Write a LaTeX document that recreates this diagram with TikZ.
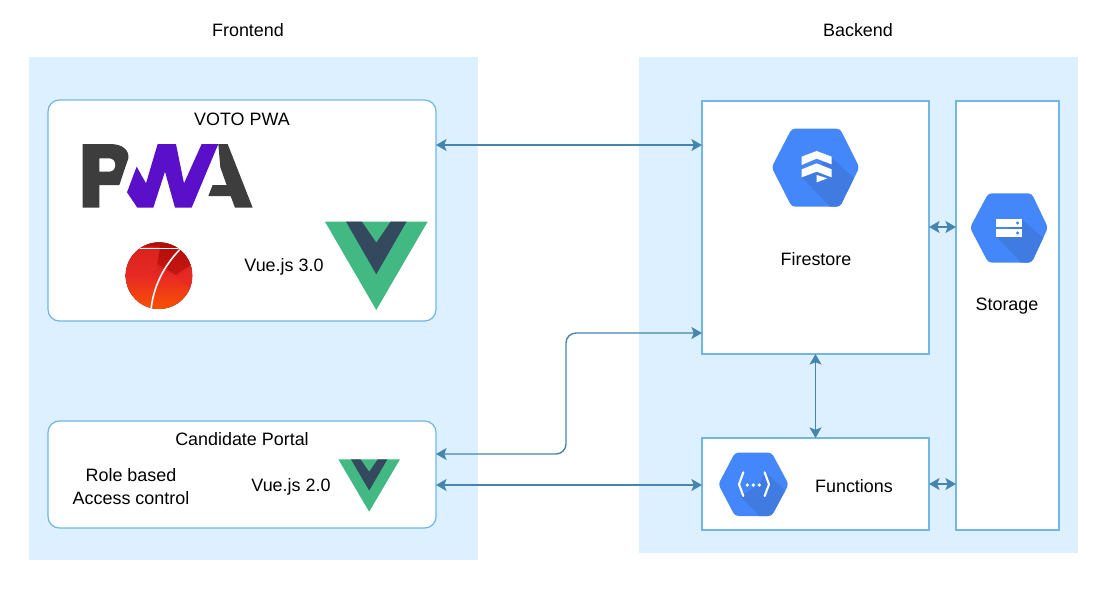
\documentclass[tikz,border=0pt]{standalone}
\usepackage{fontspec}
\setmainfont{Liberation Sans}
\usetikzlibrary{arrows.meta,fit}
\definecolor{panelc}{HTML}{DDF0FF}
\definecolor{strokec}{HTML}{70B6E6}
\definecolor{linec}{HTML}{4585AE}
\definecolor{hexc}{HTML}{4487FA}
\definecolor{hexshade}{HTML}{407BE2}
\definecolor{pwadark}{HTML}{3D3D3D}
\definecolor{pwapurple}{HTML}{5A0FC8}
\definecolor{vuegreen}{HTML}{42B883}
\definecolor{vuedark}{HTML}{35495E}
\definecolor{fseven}{HTML}{E82A24}
\definecolor{fsevendark}{HTML}{B20C08}
\definecolor{fsevenlow}{HTML}{FA5200}
\tikzset{
  panel/.style={fill=panelc,draw=none,inner sep=0pt,outer sep=0pt},
  roundbox/.style={fill=white,draw=strokec,line width=.7pt,rounded corners=6.5pt,inner sep=0pt,outer sep=0pt},
  squarebox/.style={fill=white,draw=strokec,line width=.9pt,inner sep=0pt,outer sep=0pt},
  lbl/.style={font=\fontsize{10.2pt}{13pt}\selectfont,text=black,inner sep=0pt,align=center},
  biarrow/.style={draw=linec,line width=.8pt,>={Stealth[length=6pt,width=6.8pt,inset=1.3pt]},<->},
  zoomed/.style={scale=0.3333},
  hexbody/.style={rounded corners=2pt},
  iconline/.style={draw=white,line width=1.2pt,line cap=round,line join=round}
}
\newcommand{\vuelogo}[6]{% x0 x1 y0 y1 : zoom-coordinates of the logo; shift x, shift y
  \begin{scope}[shift={(#5,#6)},zoomed]
    \pgfmathsetmacro{\vw}{#2-#1}\pgfmathsetmacro{\vh}{#4-#3}
    \begin{scope}[shift={(#1,#3)},xscale=\vw,yscale=\vh]
      \fill[vuegreen] (0,0)--(1,0)--(.5,1)--cycle;
      \fill[vuedark] (.205,0)--(.36,0)--(.5,.238)--(.64,0)--(.795,0)--(.5,.596)--cycle;
    \end{scope}
  \end{scope}}
\begin{document}
\begin{tikzpicture}[x=0.02cm,y=-0.02cm]
\useasboundingbox (0,0) rectangle (1100,600);
\fill[white] (0,0) rectangle (1100,600);

% panels
\node[panel,fit={(29,57)(478,560)}] (front) {};
\node[panel,fit={(639,57)(1078,553)}] (back) {};

% boxes
\node[roundbox,fit={(48,100)(436,321)}] (voto) {};
\node[roundbox,fit={(48,421)(436,528)}] (cand) {};
\node[squarebox,fit={(702,101)(929,354)}] (fire) {};
\node[squarebox,fit={(702,438)(929,530)}] (func) {};
\node[squarebox,fit={(956,101)(1059,530)}] (stor) {};

% helper coordinates
\coordinate (h1) at (570,145);
\coordinate (h2) at (566,333);
\coordinate (h3) at (566,454);
\coordinate (h4) at (570,485);
\coordinate (h5) at (942,227);
\coordinate (h6) at (942,484);

% connectors
\draw[biarrow] (voto.east |- h1) -- (fire.west |- h1);
\draw[biarrow,rounded corners=5.7pt] (fire.west |- h2) -- (h2) -- (h3) -- (cand.east |- h3);
\draw[biarrow] (cand.east |- h4) -- (func.west |- h4);
\draw[biarrow] (fire.south) -- (func.north);
\draw[biarrow] (fire.east |- h5) -- (stor.west |- h5);
\draw[biarrow] (func.east |- h6) -- (stor.west |- h6);

% labels
\node[lbl] (tfront) at (248,30) {Frontend};
\node[lbl] (tback) at (858,30) {Backend};
\node[lbl] (tvoto) at (242,119) {VOTO PWA};
\node[lbl] (tvue3) at (284,267) {Vue.js 3.0};
\node[lbl] (tfire) at (816,259) {Firestore};
\node[lbl] (tstor) at (1007,306) {Storage};
\node[lbl] (tcand) at (242,439) {Candidate Portal};
\node[lbl] (trole) at (131,475) {Role based};
\node[lbl] (tacc) at (131,498) {Access control};
\node[lbl] (tvue2) at (291,487) {Vue.js 2.0};
\node[lbl] (tfunc) at (854,486) {Functions};

% PWA logo
\begin{scope}[shift={(60,130)},zoomed]
  \fill[pwadark,even odd rule] (68,42) -- (150,42) .. controls (190,42) and (208,62) .. (205,85)
     -- (178,165) -- (118,165) -- (118,233) -- (68,233) -- cycle
     (118,85) -- (118,125) -- (148,125) .. controls (172,125) and (172,85) .. (148,85) -- cycle;
  \fill[pwadark] (475,42) -- (503,42) -- (578,233) -- (525,233) -- (512,198) -- (445,198) -- (458,165) -- (500,165) -- (481,112) -- cycle;
  \fill[pwapurple] (201,187) -- (230,110) -- (258,160) -- (293,42) -- (348,42) -- (372,160) -- (425,42) -- (475,42) -- (395,233) -- (345,233) -- (315,125) -- (280,233) -- (232,233) -- cycle;
\end{scope}

% Framework7 logo
\begin{scope}[shift={(60,130)},zoomed]
  \begin{scope}
    \clip (297,437) circle (100);
    \fill[top color=fsevendark,bottom color=fsevenlow,middle color=fseven] (190,335) rectangle (400,540);
    \fill[fsevendark,opacity=.6] (300,345) -- (400,340) -- (400,400) -- (355,440) -- (290,400) -- cycle;
    \fill[fseven,opacity=.7] (190,350) -- (300,350) -- (290,420) -- (190,450) -- cycle;
    \fill[fseven,opacity=.7] (400,400) -- (340,440) -- (400,480) -- cycle;
    \draw[white,line width=.7pt] (190,355) -- (360,355);
    \draw[white,line width=.9pt] (360,358) .. controls (310,410) and (280,470) .. (273,540);
  \end{scope}
\end{scope}

% Vue logos
\vuelogo{795}{1103}{275}{540}{60}{130}
\vuelogo{25}{210}{118}{275}{330}{420}

% Firestore icon
\begin{scope}[shift={(700,100)},zoomed]
  \begin{scope}
    \clip[hexbody] (215,202) -- (275,86) -- (420,86) -- (478,202) -- (420,320) -- (275,320) -- cycle;
    \fill[hexc] (200,70) rectangle (490,330);
    \fill[hexshade] (395,172) -- (490,262) -- (490,330) -- (400,330) -- (305,232) -- cycle;
  \end{scope}
  \fill[white] (305,170) -- (350,153) -- (395,170) -- (395,193) -- (350,176) -- (305,195) -- cycle;
  \fill[white] (305,208) -- (350,190) -- (395,208) -- (395,232) -- (350,215) -- (305,232) -- cycle;
  \fill[white] (350,225) -- (382,235) -- (350,247) -- cycle;
\end{scope}

% Storage icon
\begin{scope}[shift={(700,100)},zoomed]
  \begin{scope}
    \clip[hexbody] (810,383) -- (865,280) -- (995,280) -- (1044,383) -- (995,488) -- (865,488) -- cycle;
    \fill[hexc] (800,270) rectangle (1050,495);
    \fill[hexshade] (967,360) -- (1050,430) -- (1050,495) -- (970,495) -- (887,408) -- cycle;
  \end{scope}
  \fill[white] (887,358) rectangle (967,380);
  \fill[white] (887,388) rectangle (967,410);
  \fill[hexc] (953,369) circle (5);
  \fill[hexc] (953,399) circle (5);
\end{scope}

% Functions icon
\begin{scope}[shift={(690,430)},zoomed]
  \begin{scope}
    \clip[hexbody] (85,163) -- (135,68) -- (245,68) -- (296,163) -- (245,258) -- (135,258) -- cycle;
    \fill[hexc] (75,60) rectangle (305,265);
    \fill[hexshade] (225,125) -- (300,195) -- (300,265) -- (215,265) -- (150,198) -- (208,165) -- cycle;
  \end{scope}
  \draw[iconline] (160,127) -- (147,163) -- (160,198);
  \draw[iconline] (224,127) -- (237,163) -- (224,198);
  \fill[white] (172,165) circle (5.5);
  \fill[white] (190,165) circle (5.5);
  \fill[white] (208,165) circle (5.5);
\end{scope}
\end{tikzpicture}
\end{document}
